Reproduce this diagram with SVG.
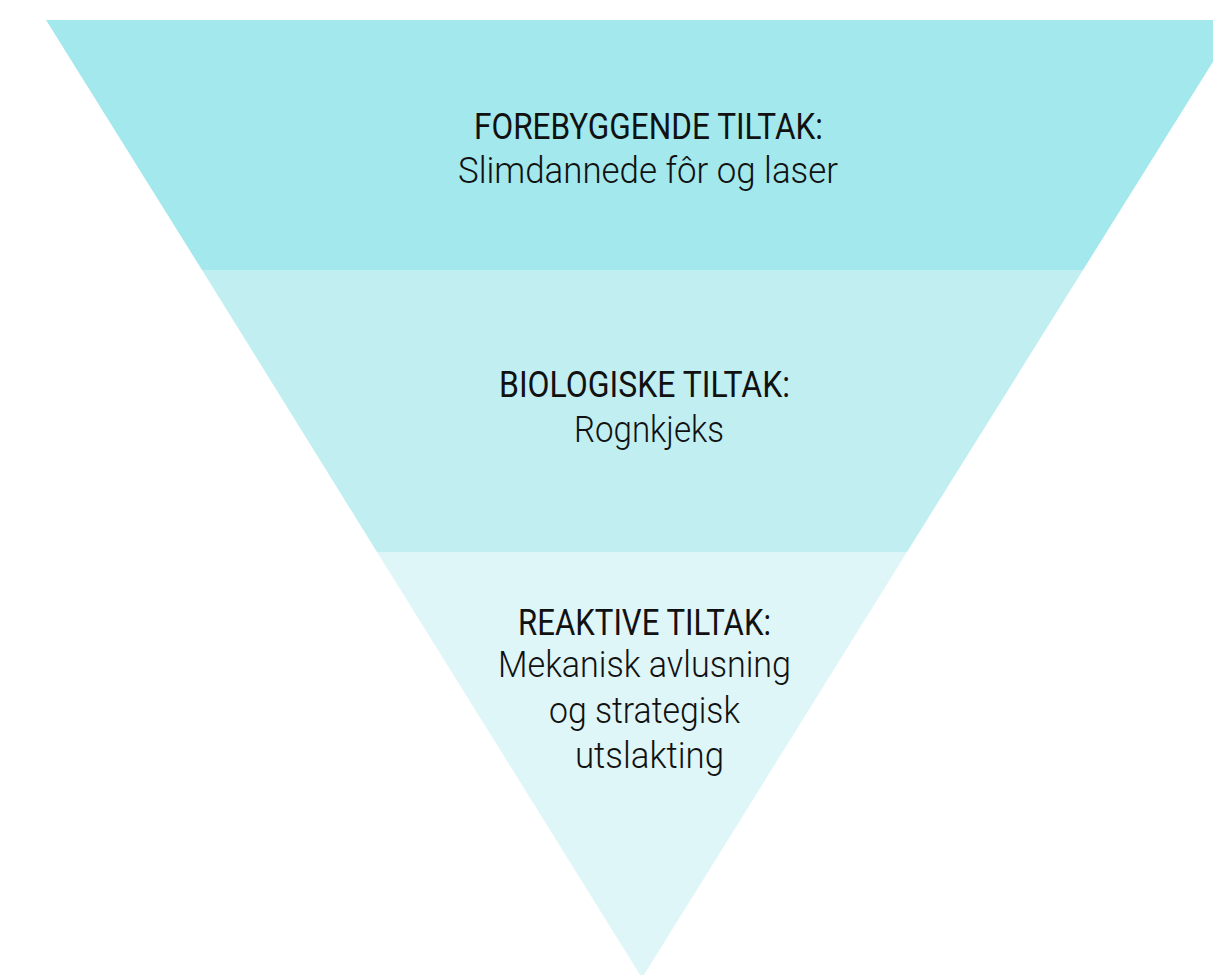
<svg xmlns="http://www.w3.org/2000/svg" width="1213" height="975" viewBox="0 0 1213 975">
<style>
.h{font-family:Roboto,"Open Sans","Liberation Sans",sans-serif;font-size:37px;font-weight:400;fill:#111;}
.b{font-family:Roboto,"Open Sans","Liberation Sans",sans-serif;font-size:36px;font-weight:300;fill:#111;}
</style>
<rect width="1213" height="975" fill="#ffffff"/>
<g id="tier-top">
<polygon points="46,20 1239,20 1083,270 202,270" fill="#a3e8ec"/>
<text class="h" x="474" y="139" textLength="349" lengthAdjust="spacingAndGlyphs">FOREBYGGENDE TILTAK:</text>
<text class="b" x="458" y="183" textLength="380" lengthAdjust="spacingAndGlyphs">Slimdannede fôr og laser</text>
</g>
<g id="tier-middle">
<polygon points="202,270 1083,270 907,552 377,552" fill="#c1eff1"/>
<text class="h" x="499" y="397" textLength="291" lengthAdjust="spacingAndGlyphs">BIOLOGISKE TILTAK:</text>
<text class="b" x="574" y="442" textLength="150" lengthAdjust="spacingAndGlyphs">Rognkjeks</text>
</g>
<g id="tier-bottom">
<polygon points="377,552 907,552 642,978" fill="#dff6f8"/>
<text class="h" x="518" y="635" textLength="253" lengthAdjust="spacingAndGlyphs">REAKTIVE TILTAK:</text>
<text class="b" x="498" y="677" textLength="293" lengthAdjust="spacingAndGlyphs">Mekanisk avlusning</text>
<text class="b" x="549" y="723" textLength="191" lengthAdjust="spacingAndGlyphs">og strategisk</text>
<text class="b" x="575" y="768" textLength="149" lengthAdjust="spacingAndGlyphs">utslakting</text>
</g>
<g id="connectors"/>
</svg>
